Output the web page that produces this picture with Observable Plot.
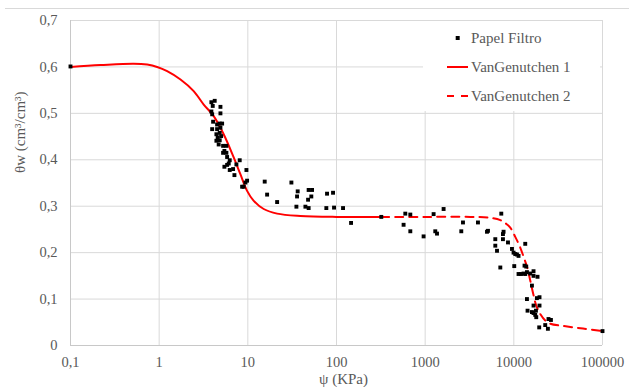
<!DOCTYPE html>
<html><head><meta charset="utf-8">
<script src="https://cdn.jsdelivr.net/npm/d3@7"></script>
<script src="https://cdn.jsdelivr.net/npm/@observablehq/plot@0.6"></script>
<style>
body{margin:0;background:#fff;}
#wrap{position:relative;width:629px;height:387px;overflow:hidden;font-family:"Liberation Serif","DejaVu Serif",serif;}
#wrap svg, #wrap svg text{font-family:"Liberation Serif","DejaVu Serif",serif !important;}
#topline{position:absolute;left:5px;top:8px;width:624px;height:1px;background:#d9d9d9;}
#legend{position:absolute;left:0;top:0;}
</style></head><body><div id="wrap"><div id="topline"></div></div>
<script>
// ---- data ----
const xTicks = [0.1, 1, 10, 100, 1000, 10000, 100000];
const xTickLabels = ["0,1", "1", "10", "100", "1000", "10000", "100000"];
const yTicks = [0, 0.1, 0.2, 0.3, 0.4, 0.5, 0.6, 0.7];
const yTickLabels = ["0", "0,1", "0,2", "0,3", "0,4", "0,5", "0,6", "0,7"];
const seriesNames = ["Papel Filtro", "VanGenutchen 1", "VanGenutchen 2"];
const xLabel = "ψ (KPa)";
const yLabel = "θw (cm³/cm³)";

const papelPsi = [0.1,
 3.88,4.23,4.91,4.02,3.88,4.91,3.96,4.06,4.50,4.82,5.13,3.96,4.50,4.91,4.42,4.82,4.57,5.00,4.42,4.82,
 4.69,5.26,5.73,5.44,5.26,5.73,5.84,6.25,8.10,7.43,6.09,5.44,5.84,6.25,6.82,9.64,7.06,9.81,9.39,8.98,8.62,
 15.5,16.5,21.4,31.0,36.5,35.9,35.3,48.5,53.0,52.0,47.8,44.6,48.5,78.2,91.4,76.8,93.8,118.5,146,320,
 597,680,571,680,960,1245,1360,1300,1614,2670,2555,3940,5110,4980,6180,6180,6460,7040,7220,7660,7540,7540,
 8590,9530,9930,10380,10840,11300,13450,10110,13200,13800,11300,12030,12870,13450,14060,15310,16680,16680,
 18500,16000,14060,18200,19480,16680,19480,14280,16000,16680,17750,17430,17900,24600,26200,22600,19330,24220,100000];
const papelTheta = [0.601,
 0.524,0.527,0.514,0.516,0.504,0.500,0.498,0.482,0.476,0.478,0.478,0.466,0.466,0.469,0.455,0.458,0.448,0.451,0.441,0.442,
 0.433,0.430,0.430,0.419,0.415,0.415,0.406,0.399,0.399,0.390,0.392,0.385,0.389,0.378,0.380,0.378,0.367,0.355,0.351,0.342,0.342,
 0.353,0.325,0.309,0.351,0.332,0.321,0.299,0.335,0.335,0.321,0.314,0.299,0.296,0.327,0.329,0.296,0.297,0.296,0.264,0.277,
 0.284,0.282,0.260,0.246,0.235,0.283,0.241,0.246,0.294,0.265,0.246,0.265,0.247,0.245,0.229,0.215,0.204,0.168,0.284,0.245,0.240,0.229,
 0.222,0.208,0.200,0.197,0.196,0.193,0.219,0.171,0.172,0.170,0.154,0.154,0.155,0.154,0.158,0.155,0.160,0.150,
 0.148,0.129,0.100,0.102,0.104,0.086,0.086,0.075,0.072,0.070,0.075,0.066,0.061,0.057,0.055,0.044,0.039,0.036,0.031];

const vg1Psi = [0.1, 0.218, 0.517, 0.733, 0.949, 1.23, 1.74, 2.45, 3.18, 4.12, 5.34, 6.93, 8.24, 9.81, 11.6, 15.1, 21.4, 39.1, 100, 320];
const vg1Theta = [0.600, 0.604, 0.607, 0.605, 0.600, 0.591, 0.573, 0.548, 0.519, 0.494, 0.455, 0.405, 0.369, 0.333, 0.312, 0.294, 0.284, 0.279, 0.277, 0.277];

const vg2Psi = [320, 1000, 3230, 5420, 7040, 8210, 9110, 10380, 11810, 13110, 14170, 15310, 16560, 17900, 19860, 22600, 25740, 40000, 100000];
const vg2Theta = [0.277, 0.277, 0.277, 0.275, 0.270, 0.262, 0.254, 0.234, 0.211, 0.187, 0.168, 0.140, 0.111, 0.086, 0.068, 0.054, 0.047, 0.041, 0.031];

// ---- build tables ----
const papel = papelPsi.map((p, i) => ({psi: p, theta: papelTheta[i]}));
const vg1 = vg1Psi.map((p, i) => ({psi: p, theta: vg1Theta[i]}));
const vg2 = vg2Psi.map((p, i) => ({psi: p, theta: vg2Theta[i]}));

const gray = "#595959";
const red = "#ff0000";
const serif = "Liberation Serif, DejaVu Serif, serif";

const chart = Plot.plot({
  width: 629, height: 387,
  marginLeft: 70, marginRight: 27, marginTop: 20, marginBottom: 42,
  style: {fontFamily: serif, fontSize: "14.5px", color: gray, background: "transparent"},
  x: {type: "log", domain: [0.1, 100000]},
  y: {domain: [0, 0.7]},
  marks: [
    Plot.gridX(xTicks, {stroke: "#d9d9d9", strokeOpacity: 1}),
    Plot.gridY(yTicks, {stroke: "#d9d9d9", strokeOpacity: 1}),
    Plot.ruleY([0], {stroke: "#c8c8c8"}),
    Plot.ruleX([0.1], {stroke: "#c8c8c8"}),
    Plot.axisX(xTicks, {tickSize: 0, tickPadding: 11, tickFormat: d => xTickLabels[xTicks.indexOf(d)], fill: gray, label: null, fontSize: 14.5}),
    Plot.axisY(yTicks, {tickSize: 0, tickPadding: 13, tickFormat: d => yTickLabels[yTicks.indexOf(d)], fill: gray, label: null, fontSize: 14.5}),
    Plot.line(vg1, {x: "psi", y: "theta", stroke: red, strokeWidth: 2, curve: "catmull-rom"}),
    Plot.line(vg2, {x: "psi", y: "theta", stroke: red, strokeWidth: 2, strokeDasharray: "8,6", curve: "catmull-rom"}),
    Plot.dot(papel, {x: "psi", y: "theta", symbol: "square", r: 2.2, fill: "#000", stroke: "none"}),
    Plot.text([yLabel], {frameAnchor: "left", text: d => d, rotate: -90, dx: -50, dy: -10, fill: gray, fontSize: 15}),
    Plot.text([xLabel], {frameAnchor: "bottom", text: d => d, dx: 7, dy: 38, fill: gray, fontSize: 15})
  ]
});
document.getElementById("wrap").appendChild(chart);

// ---- legend overlay ----
const leg = d3.select("#wrap").append("svg").attr("id", "legend")
  .attr("width", 629).attr("height", 387)
  .attr("font-family", serif);
leg.append("rect").attr("x", 423).attr("y", 21).attr("width", 177).attr("height", 90).attr("fill", "#fff");
const rows = [38, 67, 96];
seriesNames.forEach((name, i) => {
  const y = rows[i];
  if (i === 0) {
    leg.append("rect").attr("x", 455.7).attr("y", y - 2).attr("width", 4).attr("height", 4).attr("fill", "#000");
  } else {
    leg.append("line").attr("x1", 447).attr("x2", 468).attr("y1", y).attr("y2", y)
      .attr("stroke", red).attr("stroke-width", 2)
      .attr("stroke-dasharray", i === 2 ? "7,7" : null);
  }
  leg.append("text").attr("x", 471).attr("y", y).attr("dy", "0.32em")
    .attr("fill", gray).attr("font-size", 15).text(name);
});
</script>
</body></html>
